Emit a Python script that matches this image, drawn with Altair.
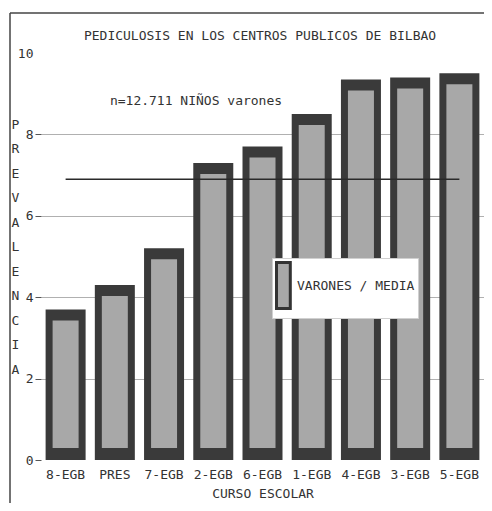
import altair as alt
import pandas as pd

categorias = ["8-EGB", "PRES", "7-EGB", "2-EGB", "6-EGB", "1-EGB", "4-EGB", "3-EGB", "5-EGB"]
prevalencia = [3.7, 4.3, 5.2, 7.3, 7.7, 8.5, 9.35, 9.4, 9.5]
media_general = 6.9
serie = "VARONES / MEDIA"
titulo = "PEDICULOSIS EN LOS CENTROS PUBLICOS DE BILBAO"
subtitulo = "n=12.711 NIÑOS varones"
eje_y = "PREVALENCIA"
eje_x = "CURSO ESCOLAR"
marcas_y = [0, 2, 4, 6, 8, 10]

df = pd.DataFrame({"curso": categorias, "prevalencia": prevalencia,
                   "serie": [serie] * len(categorias)})
df_media = pd.DataFrame({"curso": [categorias[0]], "hasta": [categorias[-1]],
                         "prevalencia": [media_general]})
una = pd.DataFrame({"k": [0]})

FONT = "DejaVu Sans Mono"
INK = "#333333"

xscale = alt.Scale(domain=categorias, paddingInner=0.2, paddingOuter=0.1)
yscale = alt.Scale(domain=[0, 10], nice=False)

x_axis = alt.Axis(title=eje_x, labelAngle=0, ticks=False, domain=False, labelPadding=8,
                  titlePadding=6, labelFont=FONT, labelFontSize=13, titleFont=FONT,
                  titleFontSize=13, titleFontWeight="normal", labelColor=INK,
                  titleColor=INK, grid=False)
y_axis = alt.Axis(values=marcas_y, title=list(eje_y), titleAngle=0, titleX=-26, titleY=65,
                  titleAlign="center", titleBaseline="top", titleLineHeight=24.5,
                  titleFont=FONT, titleFontSize=13, titleFontWeight="normal",
                  titleColor=INK, labelFont=FONT, labelFontSize=13, labelColor=INK,
                  labelPadding=2, tickSize=6, tickColor="#555555", domain=False,
                  tickOpacity=alt.condition("datum.value == 10", alt.value(0), alt.value(1)),
                  grid=True, gridColor="#b0b0b0",
                  gridOpacity=alt.condition("datum.value == 0 || datum.value == 10",
                                            alt.value(0), alt.value(1)))

x_enc = alt.X("curso:N", scale=xscale, sort=categorias, axis=x_axis)
y_enc = alt.Y("prevalencia:Q", scale=yscale, axis=y_axis)

exterior = alt.Chart(df).mark_bar(size=40, color="#3a3a3a").encode(x=x_enc, y=y_enc)

interior = alt.Chart(df).mark_bar(size=26, yOffset=11, y2Offset=-12).encode(
    x=x_enc, y=y_enc, y2=alt.datum(0),
    color=alt.Color("serie:N", scale=alt.Scale(range=["#a8a8a8"]),
                    legend=alt.Legend(orient="none", legendX=231, legendY=205, title=None,
                                      symbolType="M-1,-1H-0.4V1H-1Z", symbolSize=2116,
                                      symbolStrokeColor="#333333", symbolStrokeWidth=3,
                                      labelFont=FONT, labelFontSize=13, labelColor=INK,
                                      labelOffset=alt.ExprRef(expr="-27"),
                                      fillColor="white", padding=3,
                                      strokeColor="#d0d0d0")))

media = alt.Chart(df_media).mark_rule(color="#2a2a2a", strokeWidth=1.5).encode(
    x=x_enc, x2="hasta:N", y=y_enc)

texto_titulo = alt.Chart(una).mark_text(font=FONT, fontSize=13, color=INK,
                                         baseline="alphabetic", align="center").encode(
    x=alt.value(219), y=alt.value(-13), text=alt.value(titulo))
texto_sub = alt.Chart(una).mark_text(font=FONT, fontSize=13, color=INK,
                                      baseline="alphabetic", align="center").encode(
    x=alt.value(155), y=alt.value(52), text=alt.value(subtitulo))

marco_izq = alt.Chart(una).mark_rule(color="#444444", strokeWidth=1.5).encode(
    x=alt.value(-31), y=alt.value(-40), y2=alt.value(450))
marco_sup = alt.Chart(una).mark_rule(color="#444444", strokeWidth=1.5).encode(
    x=alt.value(-31), x2=alt.value(443), y=alt.value(-40))

chart = alt.layer(exterior, interior, media, texto_titulo, texto_sub, marco_izq, marco_sup).properties(
    width=443, height=407,
    autosize=alt.AutoSizeParams(type="none"),
    padding={"left": 33, "top": 45, "right": 0, "bottom": 43},
    background="white",
).configure_view(stroke=None)

chart.save("out.html", embed_options={"renderer": "svg", "actions": False})
